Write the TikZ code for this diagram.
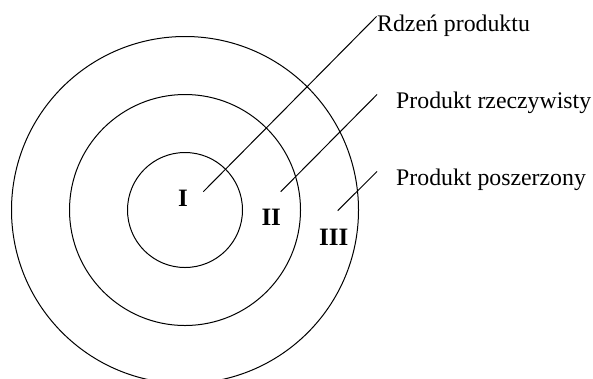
\documentclass[tikz,border=0pt]{standalone}
\usepackage{fontspec}
\setmainfont{Liberation Serif}
\begin{document}
\begin{tikzpicture}[x=1pt,y=-1pt,
  ring/.style={line width=1pt},
  leader/.style={line width=1pt},
  lbl/.style={anchor=base west,inner sep=0pt,font=\fontsize{23.8}{28}\selectfont},
  num/.style={anchor=base west,inner sep=0pt,font=\fontsize{25}{30}\selectfont\bfseries}]
\useasboundingbox (0,0) rectangle (593,378);
\clip (0,0) rectangle (593,378);
\draw[ring] (185,210) circle [radius=57.5];
\draw[ring] (185,210) circle [radius=115.5];
\draw[ring] (185,210) circle [radius=173.5];
\node[num] (n1) at (178,206) {I};
\node[num] (n2) at (261.3,225.7) {II};
\node[num] (n3) at (319,245) {III};
\node[lbl] (t1) at (377,31) {Rdzeń produktu};
\node[lbl] (t2) at (396,108.3) {Produkt rzeczywisty};
\node[lbl] (t3) at (396,185) {Produkt poszerzony};
\coordinate (a1) at (203.3,191.7);
\coordinate (b1) at (376.5,16.5);
\coordinate (a2) at (280.7,191.7);
\coordinate (b2) at (377,94.5);
\coordinate (a3) at (337.7,210.7);
\coordinate (b3) at (377,171.5);
\draw[leader] (a1) -- (b1);
\draw[leader] (a2) -- (b2);
\draw[leader] (a3) -- (b3);
\end{tikzpicture}
\end{document}
